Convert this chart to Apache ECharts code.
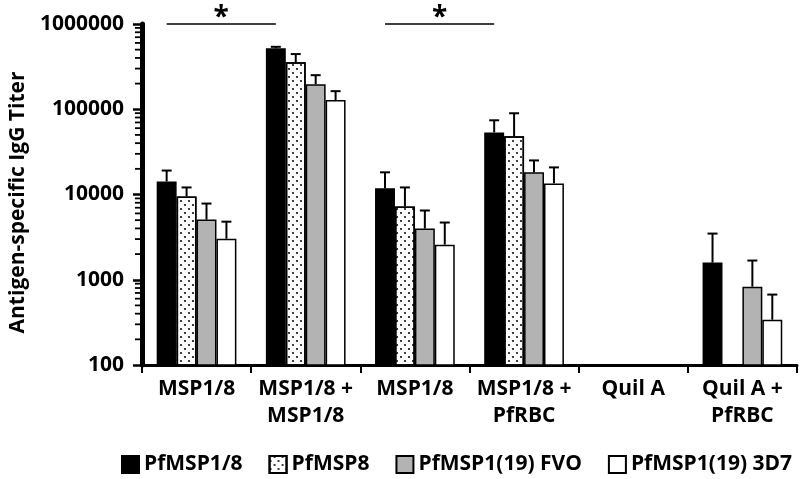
<!DOCTYPE html>
<html>
<head>
<meta charset="utf-8">
<script src="https://cdn.jsdelivr.net/npm/echarts@6/dist/echarts.min.js"></script>
<style>html,body{margin:0;padding:0;background:#fff;}#c{width:800px;height:479px;}</style>
</head>
<body>
<div id="c"></div>
<script>
const categories = ['MSP1/8', 'MSP1/8 +\nMSP1/8', 'MSP1/8', 'MSP1/8 +\nPfRBC', 'Quil A', 'Quil A +\nPfRBC'];
const seriesNames = ['PfMSP1/8', 'PfMSP8', 'PfMSP1(19) FVO', 'PfMSP1(19) 3D7'];
const pfMSP18 = [14200, 520000, 11800, 53500, 100, 1590];
const pfMSP18Err = [19100, 540000, 18200, 74200, null, 3480];
const pfMSP8 = [9470, 357000, 7230, 48100, 100, 100];
const pfMSP8Err = [12100, 444000, 12100, 89700, null, null];
const pfFVO = [5080, 197000, 3980, 18200, 100, 830];
const pfFVOErr = [7830, 251000, 6490, 25100, null, 1680];
const pf3D7 = [3030, 128000, 2580, 13500, 100, 340];
const pf3D7Err = [4800, 163000, 4690, 20800, null, 670];
const yTicks = [100, 1000, 10000, 100000, 1000000];
const minorTicks = [];
[100, 1000, 10000, 100000].forEach(function (d) { for (let k = 2; k <= 9; k++) minorTicks.push(d * k); });
// significance brackets: [from category, to category, value]
const sigBrackets = [[-0.2, 1.05, 1000000], [1.96, 3.22, 1000000]];

const values = [pfMSP18, pfMSP8, pfFVO, pf3D7];
const errs = [pfMSP18Err, pfMSP8Err, pfFVOErr, pf3D7Err];
const fills = ['#000000', '#ffffff', '#b3b3b3', '#ffffff'];
const GAP = 0.27;
const FONT = '"Open Sans", sans-serif';

const series = [];
values.forEach(function (vals, i) {
  const s = {
    name: seriesNames[i], type: 'bar', data: vals,
    barGap: '0%', barCategoryGap: (GAP * 100) + '%',
    itemStyle: { color: fills[i], borderColor: '#000', borderWidth: 1.5 },
    z: 2
  };
  if (i === 1) {
    s.itemStyle.decal = {
      symbol: 'circle', symbolSize: 1, color: '#000',
      dashArrayX: [[1.6, 5.4], [0, 3.5, 1.6, 1.9]],
      dashArrayY: [1.6, 2]
    };
  }
  if (i === 0) {
    s.markLine = {
      silent: true, symbol: 'none',
      lineStyle: { color: '#000', width: 1.5, type: 'solid' },
      label: { show: true, position: 'middle', formatter: '*', color: '#000', fontSize: 28, fontWeight: 'bold', fontFamily: FONT, distance: -8 },
      data: sigBrackets.map(function (b) { return [{ coord: [b[0], b[2]] }, { coord: [b[1], b[2]] }]; })
    };
  }
  series.push(s);
});
errs.forEach(function (ev, i) {
  const d = [];
  ev.forEach(function (e, j) { if (e != null) d.push([j, values[i][j], e]); });
  series.push({
    type: 'custom', name: 'err' + i, data: d, z: 3, silent: true, clip: false,
    renderItem: function (params, api) {
      const p = api.coord([api.value(0), api.value(1)]);
      const t = api.coord([api.value(0), api.value(2)]);
      const band = api.size([1, 0])[0];
      const bw = band * (1 - GAP) / 4;
      const cx = p[0] + (i - 1.5) * bw;
      const st = { stroke: '#000', lineWidth: 2 };
      return { type: 'group', children: [
        { type: 'line', shape: { x1: cx, y1: p[1], x2: cx, y2: t[1] }, style: st },
        { type: 'line', shape: { x1: cx - 5, y1: t[1], x2: cx + 5, y2: t[1] }, style: st }
      ] };
    }
  });
});
series.push({
  type: 'custom', name: 'minor', data: minorTicks.map(function (v) { return [0, v, v]; }), z: 10, silent: true, clip: false,
  renderItem: function (params, api) {
    const p = api.coord([0, api.value(1)]);
    const band = api.size([1, 0])[0];
    const x0 = p[0] - band / 2;
    return { type: 'line', shape: { x1: x0 - 7, y1: p[1], x2: x0, y2: p[1] }, style: { stroke: '#000', lineWidth: 1.8 } };
  }
});

const chart = echarts.init(document.getElementById('c'), null, { renderer: 'canvas' });
chart.setOption({
  animation: false,
  backgroundColor: '#fff',
  grid: { left: 132, right: 3, top: 24, bottom: 114, containLabel: false },
  legend: {
    data: seriesNames, bottom: 4, left: 121, padding: 0, itemWidth: 17, itemHeight: 17, itemGap: 26, icon: 'rect',
    textStyle: { fontFamily: FONT, fontWeight: 'bold', fontSize: 21, color: '#000' }
  },
  xAxis: {
    type: 'category', data: categories,
    axisLine: { lineStyle: { color: '#000', width: 3 } },
    axisTick: { show: true, length: 8, lineStyle: { color: '#000', width: 2 } },
    axisLabel: { interval: 0, margin: 11, color: '#000', fontFamily: FONT, fontWeight: 'bold', fontSize: 21, lineHeight: 27 }
  },
  yAxis: {
    type: 'log', logBase: 10, min: 100, max: 1000000,
    name: 'Antigen-specific IgG Titer', nameLocation: 'middle', nameGap: 107,
    nameTextStyle: { fontFamily: FONT, fontWeight: 'bold', fontSize: 21, color: '#000', padding: [0, 16, 0, 0] },
    axisLine: { show: true, lineStyle: { color: '#000', width: 5 } },
    axisTick: { show: true, length: 9, lineStyle: { color: '#000', width: 2.5 } },
    minorTick: { show: false },
    splitLine: { show: false },
    axisLabel: { margin: 18, color: '#000', fontFamily: FONT, fontWeight: 'bold', fontSize: 21,
      formatter: function (v) { return yTicks.indexOf(Math.round(v)) >= 0 ? String(Math.round(v)) : ''; } }
  },
  series: series
});
</script>
</body>
</html>
